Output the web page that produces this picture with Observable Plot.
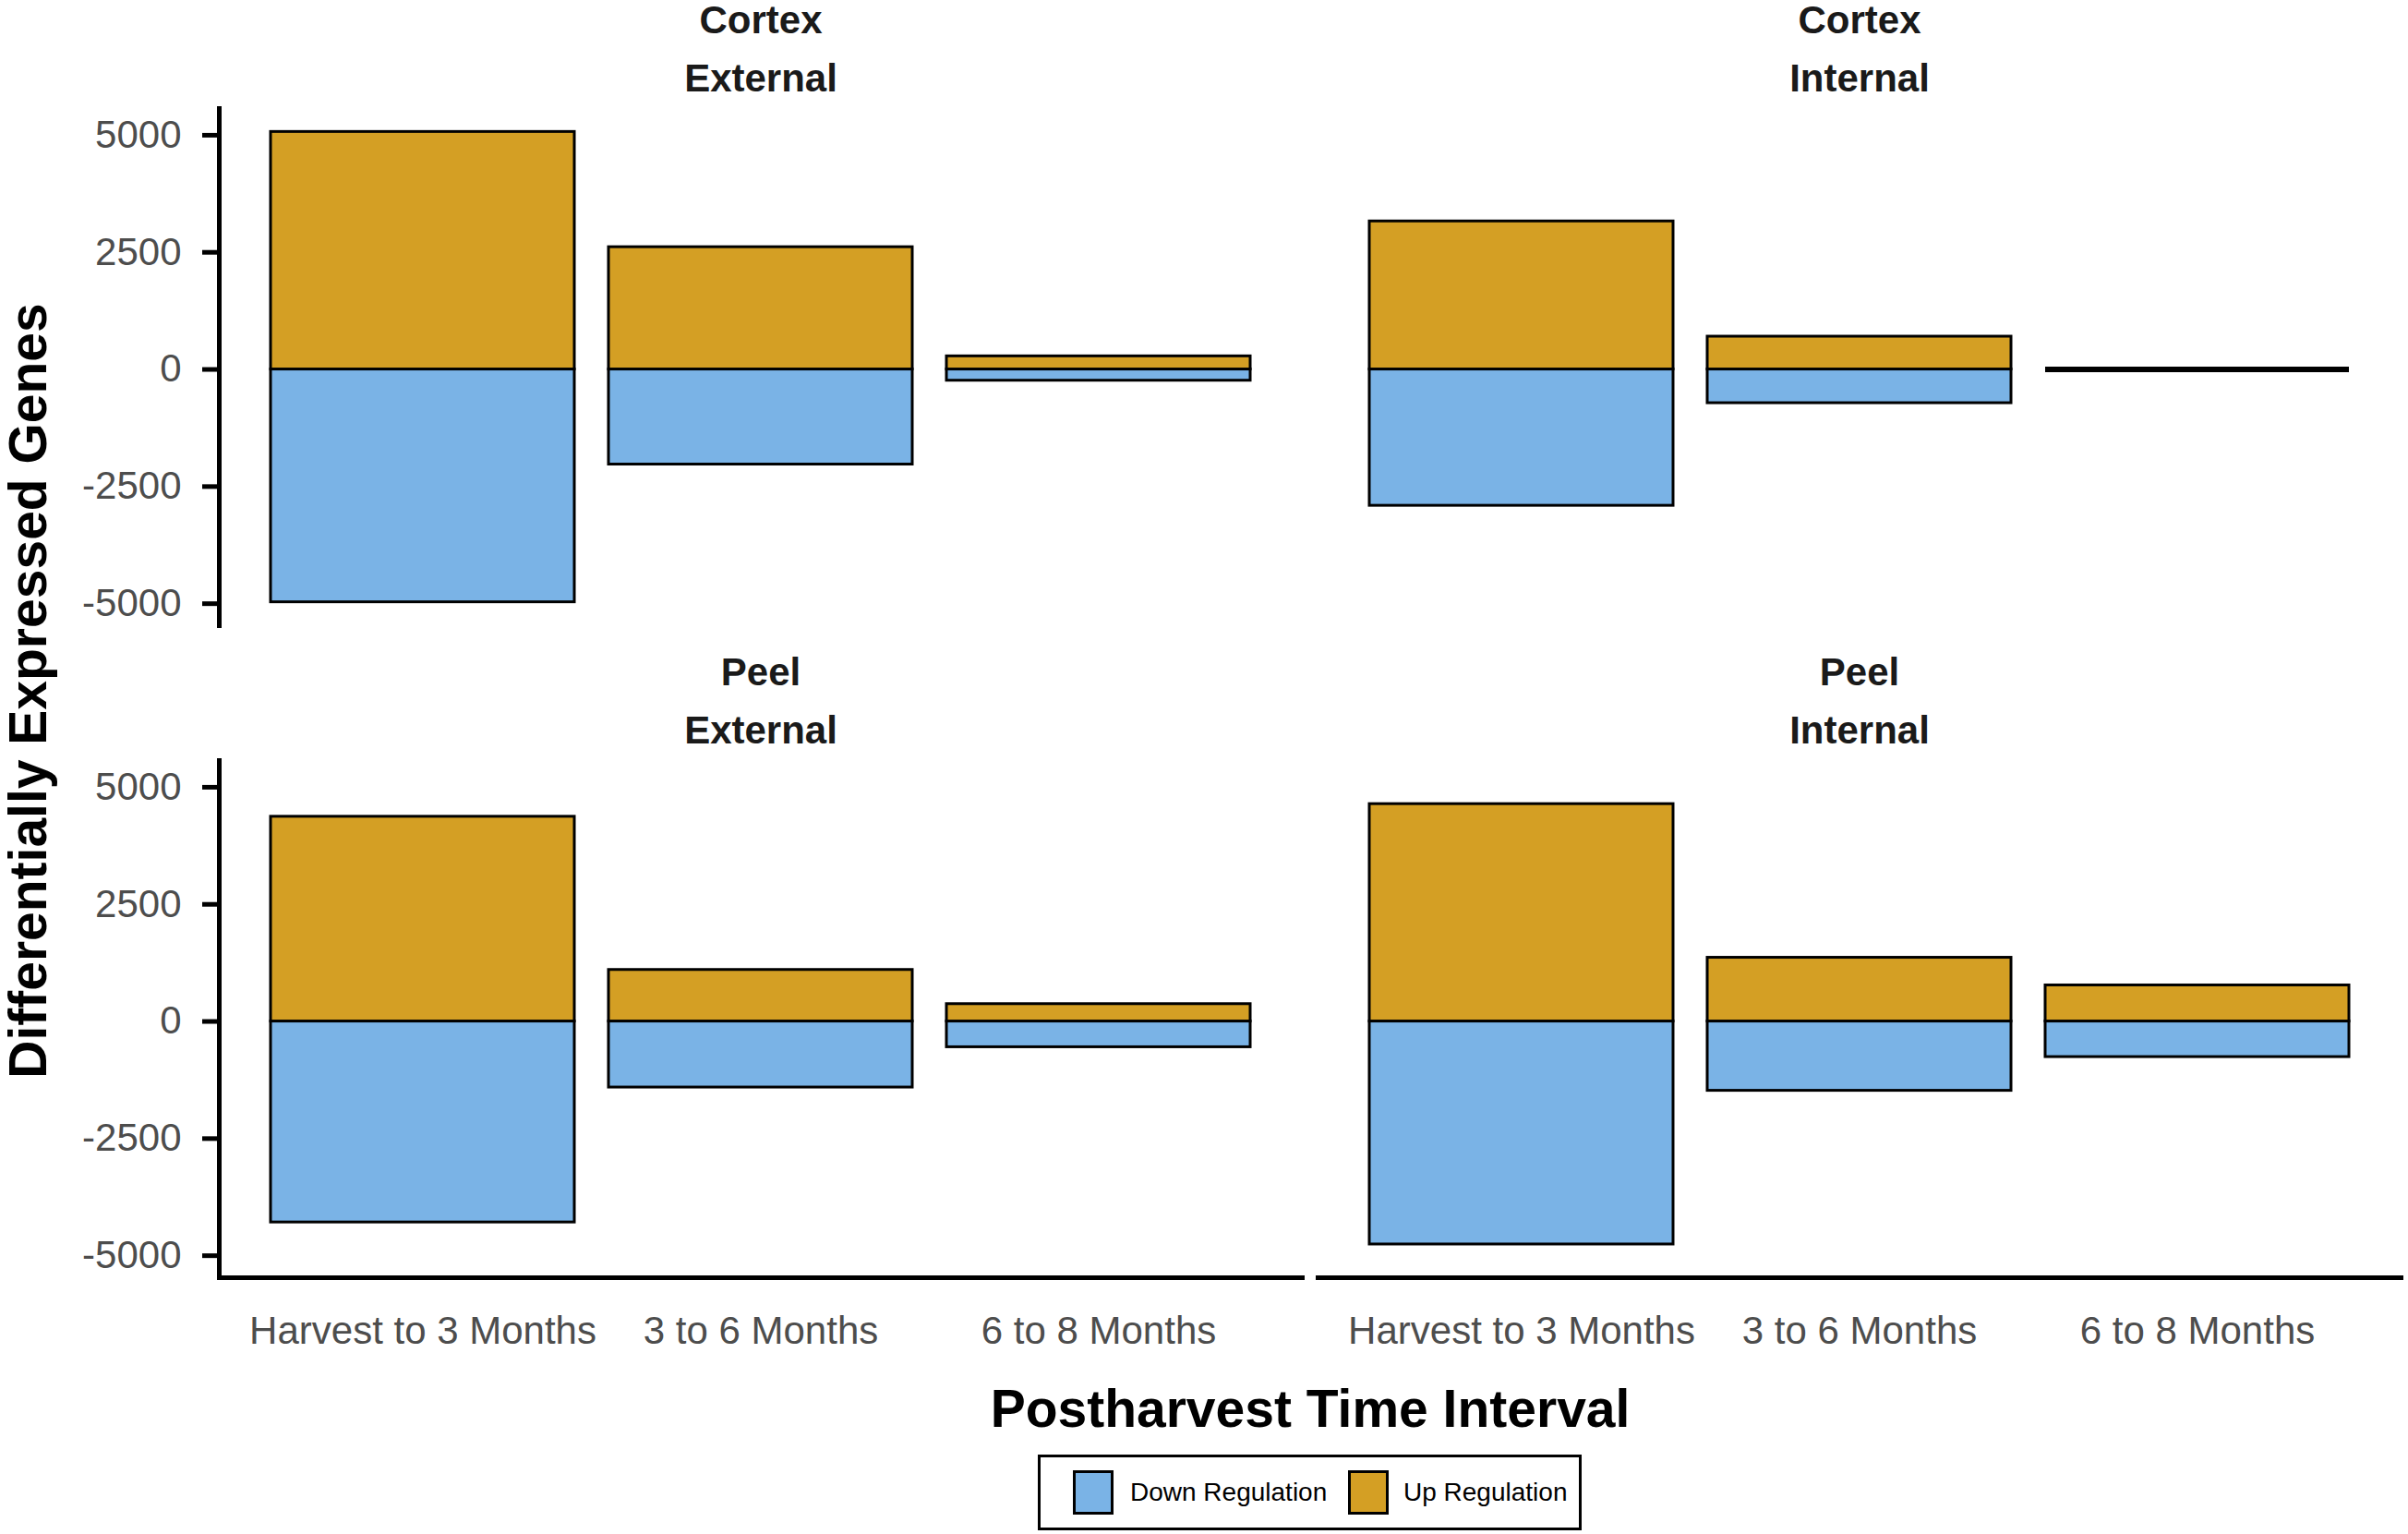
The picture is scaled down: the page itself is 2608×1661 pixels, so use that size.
<!DOCTYPE html>
<html>
<head>
<meta charset="utf-8">
<script src="https://cdn.jsdelivr.net/npm/d3@7"></script>
<script src="https://cdn.jsdelivr.net/npm/@observablehq/plot@0.6"></script>
<style>
  html, body { margin: 0; padding: 0; background: white; }
  #wrap { position: relative; width: 2608px; height: 1661px; font-family: "Liberation Sans", Arial, sans-serif; }
  #chart { position: absolute; left: 0; top: 0; }
  #ytitle { position: absolute; left: 30px; top: 748px; transform: translate(-50%, -50%) rotate(-90deg); white-space: nowrap; font-weight: bold; font-size: 57px; line-height: 1; color: #000; }
  #xtitle { position: absolute; left: 1419px; top: 1525px; transform: translate(-50%, -50%); white-space: nowrap; font-weight: bold; font-size: 57px; line-height: 1; color: #000; }
  #legend { position: absolute; left: 1124px; top: 1575px; width: 589px; height: 82px; border: 3px solid #000; box-sizing: border-box; }
  .sw { position: absolute; top: 14px; width: 44px; height: 48px; border: 3px solid #000; box-sizing: border-box; }
  .lt { position: absolute; top: 38px; transform: translateY(-50%); font-size: 28px; white-space: nowrap; color: #000; }
</style>
</head>
<body>
<div id="wrap">
  <div id="chart"></div>
  <div id="ytitle">Differentially Expressed Genes</div>
  <div id="xtitle">Postharvest Time Interval</div>
  <div id="legend"></div>
</div>
<script>
const intervals = ["Harvest to 3 Months", "3 to 6 Months", "6 to 8 Months"];
const tissues = ["Cortex", "Peel"];
const sides = ["External", "Internal"];
const regulations = ["Down Regulation", "Up Regulation"];
const regColors = ["#7AB3E6", "#D49F24"];
const yTicks = [-5000, -2500, 0, 2500, 5000];

const upCortexExternal   = [5070, 2610, 280];
const downCortexExternal = [-4970, -2030, -240];
const upCortexInternal   = [3160, 700, 0];
const downCortexInternal = [-2910, -720, 0];
const upPeelExternal     = [4370, 1100, 370];
const downPeelExternal   = [-4290, -1410, -550];
const upPeelInternal     = [4640, 1360, 770];
const downPeelInternal   = [-4760, -1480, -760];

const panels = [
  {tissue: "Cortex", side: "External", up: upCortexExternal, down: downCortexExternal},
  {tissue: "Cortex", side: "Internal", up: upCortexInternal, down: downCortexInternal},
  {tissue: "Peel", side: "External", up: upPeelExternal, down: downPeelExternal},
  {tissue: "Peel", side: "Internal", up: upPeelInternal, down: downPeelInternal}
];

const rows = panels.flatMap(p => intervals.flatMap((iv, i) => [
  {tissue: p.tissue, side: p.side, interval: iv, reg: regulations[0], value: p.down[i]},
  {tissue: p.tissue, side: p.side, interval: iv, reg: regulations[1], value: p.up[i]}
]));
const zeroRows = panels.flatMap(p => intervals.map((iv, i) => ({tissue: p.tissue, side: p.side, interval: iv, up: p.up[i], down: p.down[i]})))
  .filter(d => d.up === 0 && d.down === 0);
const strips = panels.map(p => ({tissue: p.tissue, side: p.side, label: p.tissue + "\n" + p.side}));

const chart = Plot.plot({
  width: 2608,
  height: 1473,
  marginLeft: 236,
  marginRight: 7,
  marginTop: 117,
  marginBottom: 90,
  style: {fontFamily: "'Liberation Sans', Arial, sans-serif", fontSize: "42px", background: "white", overflow: "visible"},
  fx: {domain: sides, paddingInner: 0.01427, paddingOuter: 0, axis: null},
  fy: {domain: tissues, paddingInner: 0.2068, paddingOuter: 0, axis: null},
  x: {domain: intervals, paddingInner: 0.1, paddingOuter: 0.15, label: null},
  y: {domain: [-5470, 5570], label: null},
  color: {domain: regulations, range: regColors},
  marks: [
    Plot.barY(rows, {fx: "side", fy: "tissue", x: "interval", y1: 0, y2: "value", fill: "reg", stroke: "black", strokeWidth: 3}),
    Plot.tickY(zeroRows, {fx: "side", fy: "tissue", x: "interval", y: 0, stroke: "black", strokeWidth: 6}),
    Plot.frame({anchor: "left", facetAnchor: "left", strokeWidth: 5}),
    Plot.frame({anchor: "bottom", facetAnchor: "bottom", strokeWidth: 5}),
    Plot.axisY({ticks: yTicks, tickSize: 18, strokeWidth: 5, tickPadding: 23, tickFormat: d => String(d), fill: "#4d4d4d", stroke: "black", label: null, fontSize: 42}),
    Plot.axisX({tickSize: 0, tickPadding: 42, fill: "#4d4d4d", label: null, fontSize: 42}),
    Plot.text(strips, {fx: "side", fy: "tissue", text: "label", frameAnchor: "top", lineAnchor: "bottom", lineHeight: 1.5, dy: -19, fontWeight: "bold", fontSize: 42, fill: "#1a1a1a"})
  ]
});
document.getElementById("chart").appendChild(chart);

const legend = document.getElementById("legend");
const swLeft = [35, 333];
const txtLeft = [97, 393];
regulations.forEach((r, i) => {
  const sw = document.createElement("div");
  sw.className = "sw";
  sw.style.left = swLeft[i] + "px";
  sw.style.background = regColors[i];
  legend.appendChild(sw);
  const t = document.createElement("div");
  t.className = "lt";
  t.style.left = txtLeft[i] + "px";
  t.textContent = r;
  legend.appendChild(t);
});
</script>
</body>
</html>
